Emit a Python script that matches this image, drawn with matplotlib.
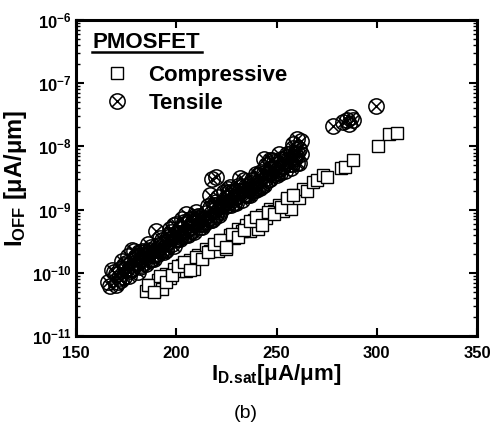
import numpy as np
import matplotlib
matplotlib.use('Agg')
import matplotlib.pyplot as plt
from matplotlib.path import Path
from matplotlib.lines import Line2D
from matplotlib.ticker import FixedLocator, LogLocator, FuncFormatter, NullFormatter

plt.rcParams['font.family'] = ['Liberation Sans', 'DejaVu Sans']
plt.rcParams['mathtext.fontset'] = 'custom'
plt.rcParams['mathtext.rm'] = 'Liberation Sans:bold'
plt.rcParams['mathtext.bf'] = 'Liberation Sans:bold'
plt.rcParams['mathtext.it'] = 'Liberation Sans:bold:italic'
plt.rcParams['mathtext.default'] = 'bf'

# ---------------- data ----------------
tensile_x = [
    166, 168, 170, 172, 174, 176, 178, 180, 182, 184, 186, 188, 190, 192, 194, 196,
    198, 200, 202, 204, 206, 208, 210, 212, 214, 216, 218, 220, 222, 224, 226, 228,
    230, 232, 234, 236, 238, 240, 242, 244, 246, 248, 250, 252, 254, 256, 258, 260, 262,
    167, 169, 171, 173, 175, 177, 179, 181, 183, 185, 187, 189, 191, 193, 195, 197,
    199, 201, 203, 205, 207, 209, 211, 213, 215, 217, 219, 221, 223, 225, 227, 229,
    231, 233, 235, 237, 239, 241, 243, 245, 247, 249, 251, 253, 255, 257, 259, 261,
    178, 181, 184, 187, 190, 193, 196, 199, 202, 205, 208, 211, 214, 217, 220, 223,
    226, 229, 232, 235, 238, 241, 244, 247, 250,
    170, 172.5, 175, 177.5, 180, 182.5, 185, 187.5, 190, 192.5, 195, 197.5, 200,
    202.5, 205, 207.5, 210, 212.5, 215, 217.5, 220, 222.5, 225, 227.5, 230, 232.5,
    235, 237.5, 240, 242.5, 245, 247.5, 250, 252.5, 255, 257.5, 260,
    171.5, 174, 176.5, 179, 181.5, 184, 186.5, 189, 191.5, 194, 196.5, 199, 201.5,
    204, 206.5, 209, 211.5, 214, 216.5, 219, 221.5, 224, 226.5, 229, 231.5, 234,
    236.5, 239, 241.5, 244, 246.5, 249, 251.5, 254, 256.5, 259,
    218, 220, 247, 258, 260, 261, 262, 257, 278, 283, 285, 287, 288, 286, 299.5,
]
tensile_y = [
    7.08e-11, 1.10e-10, 6.53e-11, 1.14e-10, 8.71e-11, 1.83e-10, 1.13e-10, 1.85e-10,
    1.23e-10, 1.91e-10, 2.84e-10, 1.64e-10, 2.29e-10, 3.56e-10, 2.11e-10, 3.68e-10,
    2.81e-10, 5.90e-10, 3.66e-10, 5.97e-10, 3.97e-10, 6.17e-10, 9.18e-10, 5.31e-10,
    7.38e-10, 1.15e-9, 6.79e-10, 1.19e-9, 9.05e-10, 1.91e-9, 1.18e-9, 1.92e-9,
    1.28e-9, 1.99e-9, 2.96e-9, 1.71e-9, 2.38e-9, 3.71e-9, 2.19e-9, 3.84e-9,
    2.92e-9, 6.14e-9, 3.81e-9, 6.21e-9, 4.13e-9, 6.43e-9, 9.55e-9, 5.53e-9, 7.67e-9,
    6.18e-11, 1.03e-10, 7.18e-11, 1.51e-10, 1.15e-10, 1.08e-10, 2.22e-10, 1.41e-10,
    2.24e-10, 1.36e-10, 2.26e-10, 1.65e-10, 2.00e-10, 3.33e-10, 2.32e-10, 4.86e-10,
    3.72e-10, 3.49e-10, 7.14e-10, 4.54e-10, 7.23e-10, 4.38e-10, 7.31e-10, 5.32e-10,
    6.44e-10, 1.07e-9, 7.48e-10, 1.57e-9, 1.20e-9, 1.12e-9, 2.31e-9, 1.47e-9,
    2.33e-9, 1.41e-9, 2.36e-9, 1.72e-9, 2.08e-9, 3.47e-9, 2.40e-9, 5.07e-9,
    3.86e-9, 3.63e-9, 7.45e-9, 4.72e-9, 7.53e-9, 4.56e-9, 7.62e-9, 5.55e-9,
    2.26e-10, 1.04e-10, 2.15e-10, 1.57e-10, 4.56e-10, 2.20e-10, 3.06e-10, 5.62e-10,
    3.41e-10, 8.45e-10, 4.57e-10, 8.02e-10, 5.86e-10, 1.70e-9, 8.22e-10, 1.14e-9,
    2.10e-9, 1.27e-9, 3.16e-9, 1.71e-9, 2.99e-9, 2.19e-9, 6.37e-9, 3.07e-9, 4.28e-9,
    9.66e-11, 7.73e-11, 1.45e-10, 1.16e-10, 1.69e-10, 1.31e-10, 1.79e-10, 2.55e-10,
    1.95e-10, 2.90e-10, 2.32e-10, 4.35e-10, 3.48e-10, 5.06e-10, 3.95e-10, 5.37e-10,
    7.64e-10, 5.83e-10, 8.69e-10, 6.95e-10, 1.30e-9, 1.04e-9, 1.52e-9, 1.19e-9,
    1.61e-9, 2.29e-9, 1.75e-9, 2.61e-9, 2.08e-9, 3.91e-9, 3.13e-9, 4.55e-9,
    3.56e-9, 4.83e-9, 6.87e-9, 5.25e-9, 7.82e-9,
    8.26e-11, 1.32e-10, 8.97e-11, 1.43e-10, 2.13e-10, 1.42e-10, 2.21e-10, 1.94e-10,
    2.46e-10, 2.48e-10, 3.95e-10, 2.69e-10, 4.30e-10, 6.40e-10, 4.26e-10, 6.64e-10,
    5.82e-10, 7.38e-10, 7.43e-10, 1.19e-9, 8.07e-10, 1.29e-9, 1.92e-9, 1.28e-9,
    1.99e-9, 1.75e-9, 2.21e-9, 2.23e-9, 3.56e-9, 2.42e-9, 3.86e-9, 5.75e-9,
    3.83e-9, 5.97e-9, 5.24e-9, 6.64e-9,
    3.0e-9, 3.3e-9, 6.2e-9, 1.1e-8, 1.3e-8, 9.0e-9, 1.2e-8, 8.0e-9,
    2.1e-8, 2.4e-8, 2.6e-8, 2.9e-8, 2.6e-8, 2.3e-8, 4.4e-8,
]

compressive_x = [
    185, 187, 189, 191, 193, 195, 197, 199, 201, 203, 205, 207, 209, 211, 213, 215,
    217, 219, 221, 223, 225, 227, 229, 231, 233, 235, 237, 239, 241, 243, 245, 247,
    249, 251, 253, 255, 257, 259, 261, 263,
    186, 189, 192, 195, 198, 201, 204, 207, 210, 213, 216, 219, 222, 225, 228, 231,
    234, 237, 240, 243, 246, 249, 252, 255, 258,
    265, 268, 270, 273, 275, 282, 284, 288, 300.5, 306, 310,
]
compressive_y = [
    5.13e-11, 6.31e-11, 5.12e-11, 7.57e-11, 5.60e-11, 9.53e-11, 8.28e-11, 1.14e-10,
    1.06e-10, 1.31e-10, 1.06e-10, 1.57e-10, 1.16e-10, 1.93e-10, 1.72e-10, 2.37e-10,
    2.21e-10, 2.71e-10, 2.20e-10, 3.26e-10, 2.41e-10, 4.00e-10, 3.56e-10, 4.91e-10,
    4.58e-10, 5.62e-10, 4.57e-10, 6.75e-10, 5.00e-10, 8.30e-10, 7.38e-10, 1.02e-9,
    9.48e-10, 1.17e-9, 9.48e-10, 1.40e-9, 1.04e-9, 1.72e-9, 1.53e-9, 2.11e-9,
    6.46e-11, 4.89e-11, 8.89e-11, 7.21e-11, 9.29e-11, 1.28e-10, 1.47e-10, 1.11e-10,
    1.80e-10, 1.64e-10, 2.11e-10, 2.90e-10, 3.33e-10, 2.52e-10, 4.09e-10, 3.72e-10,
    4.79e-10, 6.61e-10, 7.57e-10, 5.74e-10, 9.29e-10, 8.45e-10, 1.09e-9, 1.50e-9, 1.72e-9,
    2.0e-9, 2.75e-9, 2.95e-9, 3.5e-9, 3.3e-9, 4.6e-9, 4.8e-9, 6.2e-9, 1.0e-8, 1.6e-8, 1.65e-8,
]

x_ticks = [150, 200, 250, 300, 350]
y_ticks = [1e-11, 1e-10, 1e-9, 1e-8, 1e-7, 1e-6]
legend_title = 'PMOSFET'
series_labels = ['Compressive', 'Tensile']

# ---------------- figure ----------------
fig = plt.figure(figsize=(4.92, 4.25), dpi=100)
ax = fig.add_axes([0.1545, 0.2094, 0.815, 0.7435])

d = 0.7071
otimes = Path.make_compound_path(
    Path.unit_circle(),
    Path([(-d, -d), (d, d)], [Path.MOVETO, Path.LINETO]),
    Path([(-d, d), (d, -d)], [Path.MOVETO, Path.LINETO]),
)

h_comp, = ax.plot(compressive_x, compressive_y, linestyle='none', marker='s',
                  ms=9, mfc='white', mec='black', mew=1.0)
h_tens, = ax.plot(tensile_x, tensile_y, linestyle='none', marker=otimes,
                  ms=11, mfc='none', mec='black', mew=1.1)

ax.set_yscale('log')
ax.set_xlim(150, 350)
ax.set_ylim(1e-11, 1e-6)
ax.xaxis.set_major_locator(FixedLocator(x_ticks))
ax.yaxis.set_major_locator(FixedLocator(y_ticks))
ax.yaxis.set_minor_locator(LogLocator(base=10, subs=np.arange(2, 10), numticks=20))
ax.yaxis.set_minor_formatter(NullFormatter())
ax.yaxis.set_major_formatter(FuncFormatter(
    lambda v, p: r'$\mathbf{10^{%d}}$' % int(round(np.log10(v)))))
ax.xaxis.set_major_formatter(FuncFormatter(lambda v, p: '%d' % v))

ax.tick_params(which='major', direction='in', length=6, width=1.5,
               top=True, right=True, labelsize=12)
ax.tick_params(axis='x', which='major', pad=7)
ax.tick_params(axis='y', which='major', pad=3)
ax.tick_params(which='minor', direction='in', length=3, width=1.0,
               top=True, right=True)
for lab in ax.get_xticklabels() + ax.get_yticklabels():
    lab.set_fontweight('bold')
for s in ax.spines.values():
    s.set_linewidth(2.2)

ax.set_xlabel(r'$\mathbf{I_{D.\!sat}}$[μA/μm]', fontsize=16, fontweight='bold', labelpad=1)
ax.set_ylabel(r'$\mathbf{I_{OFF}}$ [μA/μm]', fontsize=17, fontweight='bold', labelpad=2)

# legend
ax.text(0.04, 0.962, legend_title, transform=ax.transAxes, ha='left', va='top',
        fontsize=16, fontweight='bold')
ax.add_line(Line2D([0.04, 0.315], [0.899, 0.899], transform=ax.transAxes,
                   color='black', lw=1.8, clip_on=False))
leg = ax.legend([h_comp, h_tens], series_labels, loc='upper left',
                bbox_to_anchor=(0.07, 0.858), frameon=False,
                prop={'size': 16, 'weight': 'bold'}, handlelength=1.2,
                handletextpad=0.8, labelspacing=0.3, borderaxespad=0, borderpad=0)

fig.text(0.5, 0.008, '(b)', ha='center', va='bottom', fontsize=14)

fig.savefig('out.png', dpi=100)
